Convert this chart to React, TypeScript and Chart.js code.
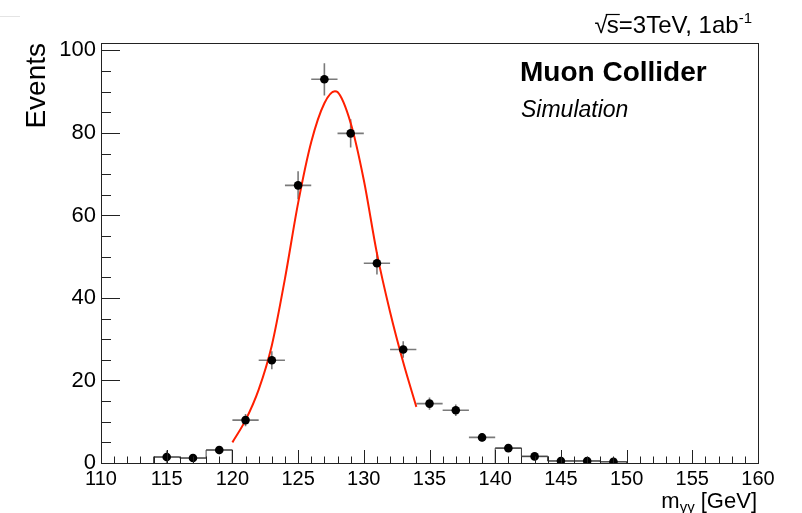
import React, { useEffect, useRef } from 'react';
import { Chart, registerables } from 'chart.js';

Chart.register(...registerables);

// ---- data ----
const binCenters = [115, 117, 119, 121, 123, 125, 127, 129, 131, 133, 135, 137, 139, 141, 143, 145, 147, 149];
const events = [1.45, 1.2, 3.15, 10.4, 24.9, 67.3, 93.0, 79.9, 48.4, 27.5, 14.4, 12.8, 6.2, 3.6, 1.6, 0.5, 0.5, 0.3];
const yErrors = [1.6, 0.8, 1.0, 1.5, 2.2, 3.4, 3.9, 3.4, 2.7, 2.0, 1.5, 1.4, 1.0, 0.8, 0.6, 0.4, 0.4, 0.3];
const binHalfWidth = 1;

// sideband histogram (outline only)
const histLeftCenters = [115, 117, 119];
const histLeftValues = [1.45, 1.2, 3.15];
const histRightCenters = [141, 143, 145, 147, 149];
const histRightValues = [3.6, 1.6, 0.5, 0.5, 0.3];

// fitted signal curve
const fitX = [120, 121, 122, 123, 124, 125, 126, 127, 127.8, 128, 129, 130, 131, 132, 133, 134];
const fitY = [5.0, 10.4, 17.8, 28.5, 44.7, 63.0, 77.8, 87.2, 90.1, 89.9, 82.4, 68.6, 50.8, 36.6, 24.4, 13.6];

// axes
const xMin = 110, xMax = 160, xMajorStep = 5, xMinorStep = 1;
const yMin = 0, yMax = 101.8, yMajorStep = 20, yMinorStep = 5;

const FONT = '"Liberation Sans", Arial, Helvetica, sans-serif';

function stepOutline(centers: number[], values: number[]) {
  const pts: { x: number; y: number }[] = [];
  centers.forEach((c, i) => {
    const lo = c - binHalfWidth, hi = c + binHalfWidth;
    if (i === 0) pts.push({ x: lo, y: 0 });
    pts.push({ x: lo, y: values[i] });
    pts.push({ x: hi, y: values[i] });
    if (i === centers.length - 1) pts.push({ x: hi, y: 0 });
  });
  return pts;
}

const rootPlugin = {
  id: 'rootStyle',
  beforeDatasetsDraw(chart: any) {
    const { ctx, scales } = chart;
    const xs = scales.x, ys = scales.y;
    ctx.save();
    ctx.strokeStyle = '#7a7a7a';
    ctx.lineWidth = 1.6;
    binCenters.forEach((c, i) => {
      const px = xs.getPixelForValue(c);
      const py = ys.getPixelForValue(events[i]);
      ctx.beginPath();
      ctx.moveTo(xs.getPixelForValue(c - binHalfWidth), py);
      ctx.lineTo(xs.getPixelForValue(c + binHalfWidth), py);
      ctx.moveTo(px, ys.getPixelForValue(events[i] + yErrors[i]));
      ctx.lineTo(px, ys.getPixelForValue(Math.max(0, events[i] - yErrors[i])));
      ctx.stroke();
    });
    ctx.restore();
  },
  afterDraw(chart: any) {
    const { ctx, scales, chartArea } = chart;
    const xs = scales.x, ys = scales.y;
    const { left, right, top, bottom } = chartArea;
    ctx.save();
    // frame
    ctx.strokeStyle = '#222';
    ctx.lineWidth = 1;
    ctx.strokeRect(Math.round(left) + 0.5, Math.round(top) + 0.5, Math.round(right - left), Math.round(bottom - top));
    // ticks
    ctx.beginPath();
    for (let v = xMin; v <= xMax + 1e-9; v += xMinorStep) {
      const px = Math.round(xs.getPixelForValue(v)) + 0.5;
      const major = Math.abs(v / xMajorStep - Math.round(v / xMajorStep)) < 1e-6;
      ctx.moveTo(px, bottom);
      ctx.lineTo(px, bottom - (major ? 13 : 6.5));
    }
    for (let v = yMin; v <= yMax + 1e-9; v += yMinorStep) {
      const py = Math.round(ys.getPixelForValue(v)) + 0.5;
      const major = Math.abs(v / yMajorStep - Math.round(v / yMajorStep)) < 1e-6;
      ctx.moveTo(left, py);
      ctx.lineTo(left + (major ? 19 : 10), py);
    }
    ctx.stroke();

    ctx.fillStyle = '#000';
    // top right energy / luminosity label
    ctx.textBaseline = 'alphabetic';
    const supFont = `15px ${FONT}`;
    const mainTxt = 's=3TeV, 1ab';
    ctx.font = supFont;
    const supW = ctx.measureText('-1').width;
    ctx.font = `24px ${FONT}`;
    const mainW = ctx.measureText(mainTxt).width;
    const rootW = ctx.measureText('\u221A').width;
    const endX = 752;
    const startMain = endX - supW - mainW;
    const baseY = 33;
    ctx.fillText('\u221A', startMain - rootW + 1, baseY);
    ctx.fillText(mainTxt, startMain, baseY);
    const sW = ctx.measureText('s').width;
    ctx.beginPath();
    ctx.lineWidth = 1.2;
    ctx.strokeStyle = '#000';
    ctx.moveTo(startMain - 1, baseY - 18.5);
    ctx.lineTo(startMain + sW + 1, baseY - 18.5);
    ctx.stroke();
    ctx.font = supFont;
    ctx.fillText('-1', startMain + mainW, baseY - 10);

    // Muon Collider / Simulation
    ctx.font = `bold 28px ${FONT}`;
    ctx.fillText('Muon Collider', 520, 81);
    ctx.font = `italic 23px ${FONT}`;
    ctx.fillText('Simulation', 521, 117);

    // x-axis title: m_{γγ} [GeV]
    const xtFont = `22px ${FONT}`;
    const subFont = `15px ${FONT}`;
    ctx.font = xtFont;
    const mW = ctx.measureText('m').width;
    const restW = ctx.measureText(' [GeV]').width;
    ctx.font = subFont;
    const subW = ctx.measureText('\u03B3\u03B3').width;
    const xtEnd = 757;
    const xtStart = xtEnd - restW - subW - mW;
    ctx.font = xtFont;
    ctx.fillText('m', xtStart, 508);
    ctx.font = subFont;
    ctx.fillText('\u03B3\u03B3', xtStart + mW, 512);
    ctx.font = xtFont;
    ctx.fillText(' [GeV]', xtStart + mW + subW, 508);

    // y-axis title
    ctx.save();
    ctx.translate(45, 43);
    ctx.rotate(-Math.PI / 2);
    ctx.font = `28px ${FONT}`;
    ctx.textAlign = 'right';
    ctx.fillText('Events', 0, 0);
    ctx.restore();

    // faint line top-left
    ctx.strokeStyle = '#e4e4e4';
    ctx.lineWidth = 1;
    ctx.beginPath();
    ctx.moveTo(0, 16.5);
    ctx.lineTo(20, 16.5);
    ctx.stroke();
    ctx.restore();
  },
};

export default function App() {
  const ref = useRef<HTMLCanvasElement>(null);
  useEffect(() => {
    const prev = document.body.style.margin;
    document.body.style.margin = '0';
    const points = binCenters.map((c, i) => ({ x: c, y: events[i] }));
    const fit = fitX.map((x, i) => ({ x, y: fitY[i] }));
    const chart = new Chart(ref.current as HTMLCanvasElement, {
      type: 'scatter',
      data: {
        datasets: [
          {
            type: 'scatter',
            label: 'data',
            data: points,
            pointRadius: 4.3,
            pointHoverRadius: 4.3,
            backgroundColor: '#000',
            borderColor: '#000',
            borderWidth: 0,
          } as any,
          {
            type: 'line',
            label: 'fit',
            data: fit,
            borderColor: '#ff1f00',
            borderWidth: 2,
            pointRadius: 0,
            fill: false,
            cubicInterpolationMode: 'monotone',
          } as any,
          {
            type: 'line',
            label: 'sideband low',
            data: stepOutline(histLeftCenters, histLeftValues),
            borderColor: '#444',
            borderWidth: 1,
            pointRadius: 0,
            fill: false,
            tension: 0,
          } as any,
          {
            type: 'line',
            label: 'sideband high',
            data: stepOutline(histRightCenters, histRightValues),
            borderColor: '#444',
            borderWidth: 1,
            pointRadius: 0,
            fill: false,
            tension: 0,
          } as any,
        ],
      },
      options: {
        responsive: false,
        animation: false,
        layout: { padding: { top: 43, right: 44, left: 0, bottom: 0 } },
        plugins: { legend: { display: false }, tooltip: { enabled: false } },
        scales: {
          x: {
            type: 'linear',
            min: xMin,
            max: xMax,
            grid: { display: false, drawTicks: false },
            border: { display: false },
            ticks: {
              stepSize: xMajorStep,
              autoSkip: false,
              maxRotation: 0,
              color: '#000',
              padding: 4,
              font: { family: FONT, size: 20 },
            },
            afterFit: (s: any) => { s.height = 50; },
          },
          y: {
            type: 'linear',
            min: yMin,
            max: yMax,
            grid: { display: false, drawTicks: false },
            border: { display: false },
            ticks: {
              stepSize: yMajorStep,
              includeBounds: false,
              color: '#000',
              padding: 5,
              font: { family: FONT, size: 22 },
            },
            afterFit: (s: any) => { s.width = 101; },
          },
        },
      } as any,
      plugins: [rootPlugin],
    });
    return () => {
      chart.destroy();
      document.body.style.margin = prev;
    };
  }, []);
  return (
    <div style={{ position: 'relative', width: 802, height: 513 }}>
      <canvas ref={ref} width={802} height={513} style={{ display: 'block' }} />
    </div>
  );
}
